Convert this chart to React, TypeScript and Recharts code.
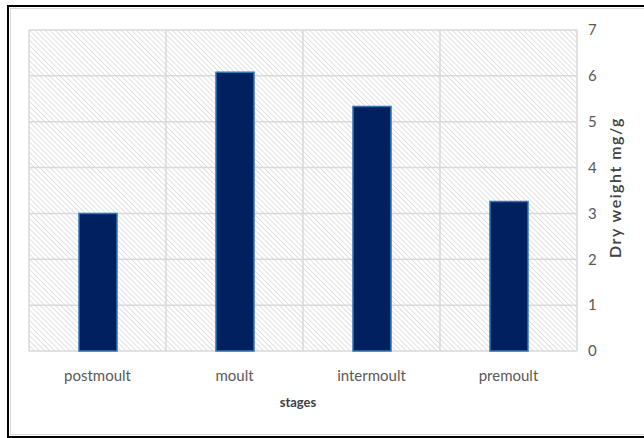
import React from "react";
import {
  BarChart,
  Bar,
  XAxis,
  YAxis,
  CartesianGrid,
  Label
} from "recharts";

// dry weight per moult stage (mg/g)
const stages = ["postmoult", "moult", "intermoult", "premoult"];
const dryWeight = [3.0, 6.08, 5.33, 3.26];
const yTicks = [0, 1, 2, 3, 4, 5, 6, 7];

const data = stages.map((stage, i) => ({ stage, value: dryWeight[i] }));

const FONT = "Lato, 'Open Sans', sans-serif";

// vertical lines on the category boundaries rather than the tick centres
const boundaryLines = ({ offset }: any) => {
  const n = stages.length;
  return Array.from({ length: n + 1 }, (_, i) => offset.left + (i * offset.width) / n);
};

export default function App() {
  return (
    <div style={{ position: "fixed", inset: 0, overflow: "hidden", background: "#fff" }}>
      <div
        style={{
          position: "absolute",
          left: 7,
          top: 5,
          width: 660,
          height: 433,
          boxSizing: "border-box",
          border: "2px solid #000",
          boxShadow: "inset 0 0 0 1px #fff, inset 0 0 0 2px #d9d9d9"
        }}
      />
      <div style={{ position: "absolute", left: 0, top: 0 }}>
        <BarChart
          width={644}
          height={438}
          data={data}
          margin={{ top: 30, right: 17, left: 29, bottom: 27 }}
          style={{ fontFamily: FONT }}
        >
          <defs>
            <pattern
              id="hatch"
              patternUnits="userSpaceOnUse"
              width="3.6"
              height="3.6"
              patternTransform="rotate(45)"
            >
              <rect x="0" y="0" width="3.6" height="3.6" fill="#ffffff" />
              <rect x="0" y="0" width="3.6" height="0.9" fill="#dedede" />
            </pattern>
          </defs>
          <CartesianGrid
            fill="url(#hatch)"
            stroke="#d9d9d9"
            strokeWidth={1.5}
            verticalCoordinatesGenerator={boundaryLines}
          />
          <XAxis
            dataKey="stage"
            height={60}
            axisLine={false}
            tickLine={false}
            tickSize={0}
            tickMargin={19}
            tick={{ fill: "#595959", fontSize: 15 }}
          >
            <Label
              value="stages"
              position="insideBottom"
              offset={4}
              dx={-5}
              style={{ fill: "#404040", fontSize: 13, fontWeight: 700, fontFamily: FONT }}
            />
          </XAxis>
          <YAxis
            orientation="right"
            width={50}
            domain={[0, 7]}
            ticks={yTicks}
            axisLine={false}
            tickLine={false}
            tickMargin={5}
            tick={{ fill: "#595959", fontSize: 15 }}
          >
            <Label
              value="Dry weight mg/g"
              angle={-90}
              position="center"
              dx={13}
              dy={-3}
              style={{
                fill: "#404040",
                fontSize: 16,
                fontWeight: 600,
                letterSpacing: 1.5,
                fontFamily: FONT
              }}
            />
          </YAxis>
          <Bar
            dataKey="value"
            barSize={38}
            fill="#002060"
            stroke="#2e75b6"
            strokeWidth={1.5}
            isAnimationActive={false}
          />
        </BarChart>
      </div>
    </div>
  );
}
